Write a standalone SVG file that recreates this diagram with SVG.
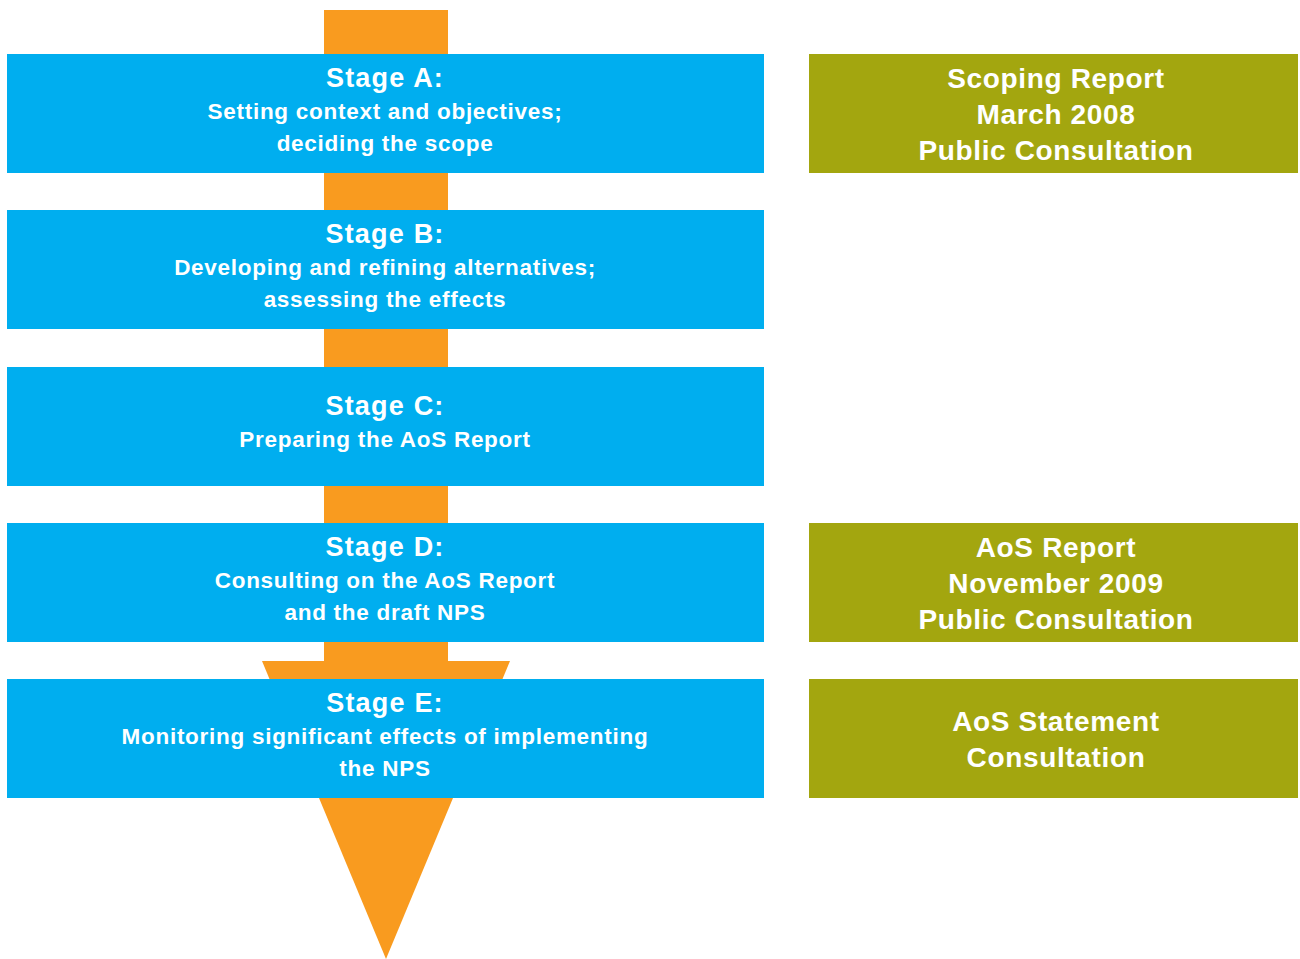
<svg xmlns="http://www.w3.org/2000/svg" width="1300" height="959" viewBox="0 0 1300 959">
  <style>
    .stage { fill: #00AEEF; }
    .event { fill: #A3A60F; }
    .flow { fill: #F99B1F; }
    text { font-family: "Liberation Sans", Arial, sans-serif; font-weight: bold; fill: #FFFFFF; text-anchor: middle; }
    .title { font-size: 27px; letter-spacing: 1.2px; }
    .sub { font-size: 22.5px; letter-spacing: 0.72px; }
    .ev { font-size: 28px; letter-spacing: 0.65px; }
  </style>
  <rect width="1300" height="959" fill="#FFFFFF"/>

  <!-- process flow arrow behind the stages -->
  <g id="connectors">
    <rect class="flow" x="324" y="10" width="124" height="660"/>
    <polygon class="flow" points="262,661 510,661 386,959"/>
  </g>

  <g id="stage-a">
    <rect class="stage" x="7" y="54" width="757" height="119"/>
    <text class="title" x="385" y="87">Stage A:</text>
    <text class="sub" x="385" y="119">Setting context and objectives;</text>
    <text class="sub" x="385" y="151">deciding the scope</text>
  </g>
  <g id="stage-b">
    <rect class="stage" x="7" y="210" width="757" height="119"/>
    <text class="title" x="385" y="243">Stage B:</text>
    <text class="sub" x="385" y="275">Developing and refining alternatives;</text>
    <text class="sub" x="385" y="307">assessing the effects</text>
  </g>
  <g id="stage-c">
    <rect class="stage" x="7" y="367" width="757" height="119"/>
    <text class="title" x="385" y="415">Stage C:</text>
    <text class="sub" x="385" y="447">Preparing the AoS Report</text>
  </g>
  <g id="stage-d">
    <rect class="stage" x="7" y="523" width="757" height="119"/>
    <text class="title" x="385" y="556">Stage D:</text>
    <text class="sub" x="385" y="588">Consulting on the AoS Report</text>
    <text class="sub" x="385" y="620">and the draft NPS</text>
  </g>
  <g id="stage-e">
    <rect class="stage" x="7" y="679" width="757" height="119"/>
    <text class="title" x="385" y="712">Stage E:</text>
    <text class="sub" x="385" y="744">Monitoring significant effects of implementing</text>
    <text class="sub" x="385" y="776">the NPS</text>
  </g>

  <g id="scoping-report">
    <rect class="event" x="809" y="54" width="489" height="119"/>
    <text class="ev" x="1056" y="88">Scoping Report</text>
    <text class="ev" x="1056" y="124">March 2008</text>
    <text class="ev" x="1056" y="160">Public Consultation</text>
  </g>
  <g id="aos-report">
    <rect class="event" x="809" y="523" width="489" height="119"/>
    <text class="ev" x="1056" y="557">AoS Report</text>
    <text class="ev" x="1056" y="593">November 2009</text>
    <text class="ev" x="1056" y="629">Public Consultation</text>
  </g>
  <g id="aos-statement">
    <rect class="event" x="809" y="679" width="489" height="119"/>
    <text class="ev" x="1056" y="731">AoS Statement</text>
    <text class="ev" x="1056" y="767">Consultation</text>
  </g>
</svg>
